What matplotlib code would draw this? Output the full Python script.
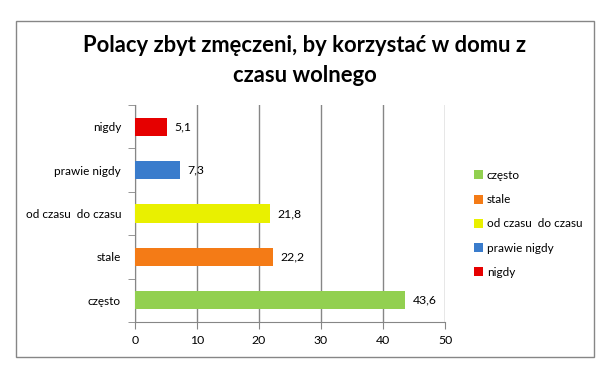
import matplotlib.pyplot as plt
from matplotlib.patches import Rectangle, Patch

plt.rcParams['font.family'] = ['Lato', 'DejaVu Sans']

categories = ['często', 'stale', 'od czasu  do czasu', 'prawie nigdy', 'nigdy']
values = [43.6, 22.2, 21.8, 7.3, 5.1]
labels = ['43,6', '22,2', '21,8', '7,3', '5,1']
colors = ['#92D050', '#F47B16', '#E9F000', '#3A7CCC', '#E60000']

fig = plt.figure(figsize=(6.09, 3.77), dpi=100)
ax = fig.add_axes([135/609, 1-322/377, 310/609, 217/377])

pos = list(range(len(categories)))
ax.barh(pos, values, height=0.42, color=colors, zorder=3)
for p, v, t in zip(pos, values, labels):
    ax.text(v + 1.2, p, t, va='center', ha='left', fontsize=8.8)

ax.set_xlim(0, 50)
ax.set_ylim(-0.5, 4.5)
ax.set_xticks(range(0, 51, 10))
ax.set_yticks(pos)
ax.set_yticklabels(categories)
ax.set_yticks([p - 0.5 for p in range(6)], minor=True)
ax.tick_params(axis='y', which='major', length=0, pad=10, labelsize=8.5)
ax.tick_params(axis='y', which='minor', length=5, color='#868686', direction='out')
ax.tick_params(axis='x', length=5, color='#868686', direction='out', labelsize=8.8, pad=4)
ax.grid(axis='x', color='#868686', linewidth=1, zorder=0)
for s in ['top', 'right']:
    ax.spines[s].set_visible(False)
for s in ['left', 'bottom']:
    ax.spines[s].set_color('#868686')

fig.suptitle('Polacy zbyt zmęczeni, by korzystać w domu z\nczasu wolnego',
             x=0.5, y=1-35/377, fontsize=15.8, fontweight='bold', linespacing=1.55, va='top')

handles = [Patch(facecolor=c) for c in colors]
fig.legend(handles, categories, loc='upper left', bbox_to_anchor=(468/609, 1-164/377),
           frameon=False, fontsize=8.5, handlelength=0.8, handleheight=0.8,
           handletextpad=0.3, labelspacing=1.12, borderpad=0)

fig.patches.append(Rectangle((16/609, 1-357/377), 578/609, 336/377, transform=fig.transFigure,
                             fill=False, edgecolor='#868686', linewidth=1))

fig.savefig('out.png')
